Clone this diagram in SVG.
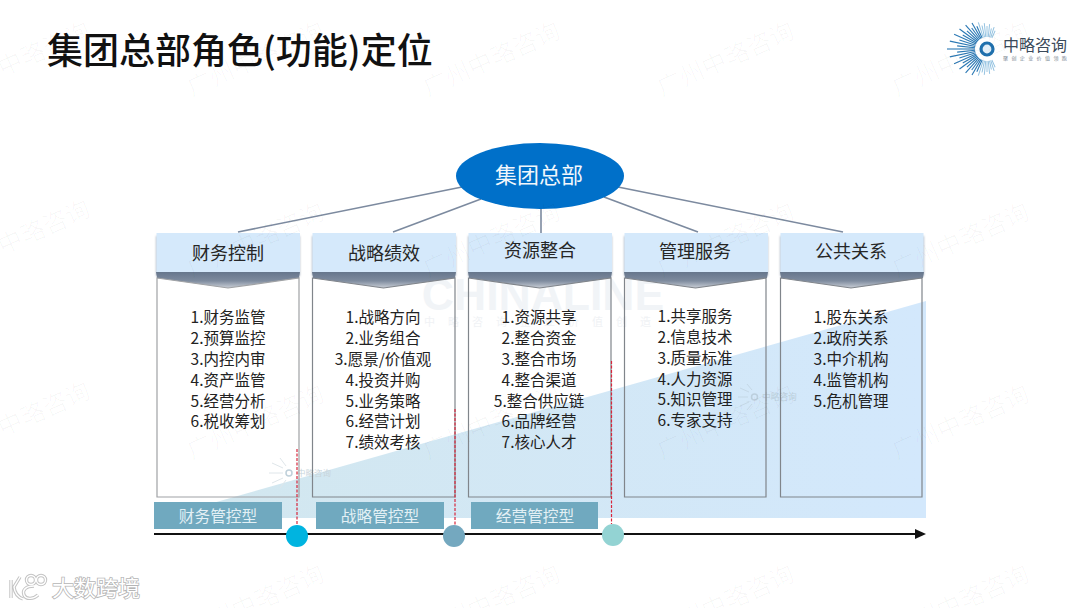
<svg xmlns="http://www.w3.org/2000/svg" width="1080" height="608" viewBox="0 0 1080 608">
<defs>
<linearGradient id="tri" x1="0" y1="0" x2="1" y2="0"><stop offset="0" stop-color="#d2e7ee"/><stop offset="1" stop-color="#d3e8fc"/></linearGradient>
<linearGradient id="chev" x1="0" y1="0" x2="0" y2="1"><stop offset="0" stop-color="#66768c"/><stop offset="0.55" stop-color="#7e8b9e"/><stop offset="1" stop-color="#c9ced6"/></linearGradient>
<filter id="hs" x="-5%" y="-10%" width="110%" height="125%"><feGaussianBlur stdDeviation="1"/></filter>
</defs>
<style>
text{font-family:"Noto Sans CJK SC","Noto Sans",sans-serif}
.wm{font-size:24.500px;fill:#000;fill-opacity:.026;text-anchor:middle}
.head{fill:#d5e9fb}
.chev{fill:url(#chev)}
.hsh{fill:#b4bdc8;filter:url(#hs)}
.box{fill:none;stroke:#80858b;stroke-width:1.2}
.ht{font-size:18px;fill:#262626;text-anchor:middle}
.it{font-size:15.500px;fill:#222;text-anchor:middle}
.lb{fill:#70a9bf}
.lt{font-size:15.700px;fill:#e3f0f5;text-anchor:middle}
.con{stroke:#7c8a9f;stroke-width:1.6;fill:none}
.red{stroke:#d8263c;stroke-width:1.200;stroke-dasharray:3 1.500;fill:none}
.ray{stroke:#2a78b4;stroke-width:1.100}
.ray2{stroke:#8fbfdf;stroke-width:.9}
.fray{stroke:#dfe6ea;stroke-width:1}
</style>
<rect width="1080" height="608" fill="#fff"/>
<g id="background">
<polygon points="160,518 926,301 926,518" fill="url(#tri)"/>
<text x="543" y="310" font-size="44.500" font-weight="700" fill="#f1f4f7" text-anchor="middle" style="font-family:'Liberation Sans',sans-serif">CHINALINE</text>
<text x="424" y="326" font-size="11" letter-spacing="13" fill="#f0f2f5">中略咨询企业价值创造</text>
<g id="small-logo-1">
<circle cx="289" cy="473" r="3" fill="none" stroke="#bfd0da" stroke-width="1.5"/>
<g class="fray"><line x1="283" y1="473" x2="269" y2="473"/><line x1="283" y1="468" x2="272" y2="463"/><line x1="283" y1="478" x2="272" y2="483"/><line x1="286" y1="466" x2="280" y2="458"/><line x1="286" y1="480" x2="280" y2="488"/></g>
<text x="297" y="476" font-size="8.500" fill="#c9d5db">中略咨询</text>
</g>
<g id="small-logo-2">
<circle cx="754.500" cy="397" r="3" fill="none" stroke="#bccfdd" stroke-width="1.5"/>
<g class="fray" style="stroke:#c5d8e6"><line x1="748" y1="397" x2="738" y2="397"/><line x1="749" y1="392" x2="740" y2="388"/><line x1="749" y1="402" x2="740" y2="406"/><line x1="752" y1="390" x2="747" y2="384"/><line x1="752" y1="404" x2="747" y2="410"/></g>
<text x="762" y="400" font-size="8.700" fill="#bccfdc">中略咨询</text>
</g>
</g>
<text x="47" y="64" font-size="36" font-weight="500" fill="#111">集团总部角色(功能)定位</text>
<g id="logo">
<g transform="translate(987 49)">
<line class="ray" x1="-12" x2="-40"/>
<line class="ray" x1="-12" x2="-30" transform="rotate(6)"/><line class="ray" x1="-12" x2="-38" transform="rotate(12)"/><line class="ray" x1="-12" x2="-29" transform="rotate(18)"/><line class="ray" x1="-12" x2="-36" transform="rotate(24)"/><line class="ray" x1="-12" x2="-28" transform="rotate(30)"/><line class="ray" x1="-12" x2="-34" transform="rotate(36)"/><line class="ray" x1="-12" x2="-27" transform="rotate(42)"/><line class="ray" x1="-12" x2="-32" transform="rotate(48)"/><line class="ray" x1="-12" x2="-26" transform="rotate(54)"/><line class="ray" x1="-12" x2="-30" transform="rotate(60)"/><line class="ray" x1="-12" x2="-25" transform="rotate(66)"/><line class="ray2" x1="-12" x2="-28" transform="rotate(72)"/><line class="ray2" x1="-12" x2="-24" transform="rotate(78)"/><line class="ray2" x1="-12" x2="-26" transform="rotate(84)"/><line class="ray2" x1="-12" x2="-23" transform="rotate(90)"/><line class="ray2" x1="-12" x2="-25" transform="rotate(96)"/><line class="ray2" x1="-12" x2="-21" transform="rotate(102)"/><line class="ray2" x1="-12" x2="-23" transform="rotate(108)"/><line class="ray2" x1="-12" x2="-20" transform="rotate(114)"/>
<line class="ray" x1="-12" x2="-30" transform="rotate(-6)"/><line class="ray" x1="-12" x2="-38" transform="rotate(-12)"/><line class="ray" x1="-12" x2="-29" transform="rotate(-18)"/><line class="ray" x1="-12" x2="-36" transform="rotate(-24)"/><line class="ray" x1="-12" x2="-28" transform="rotate(-30)"/><line class="ray" x1="-12" x2="-34" transform="rotate(-36)"/><line class="ray" x1="-12" x2="-27" transform="rotate(-42)"/><line class="ray" x1="-12" x2="-32" transform="rotate(-48)"/><line class="ray" x1="-12" x2="-26" transform="rotate(-54)"/><line class="ray" x1="-12" x2="-30" transform="rotate(-60)"/><line class="ray" x1="-12" x2="-25" transform="rotate(-66)"/><line class="ray2" x1="-12" x2="-28" transform="rotate(-72)"/><line class="ray2" x1="-12" x2="-24" transform="rotate(-78)"/><line class="ray2" x1="-12" x2="-26" transform="rotate(-84)"/><line class="ray2" x1="-12" x2="-23" transform="rotate(-90)"/><line class="ray2" x1="-12" x2="-25" transform="rotate(-96)"/><line class="ray2" x1="-12" x2="-21" transform="rotate(-102)"/><line class="ray2" x1="-12" x2="-23" transform="rotate(-108)"/><line class="ray2" x1="-12" x2="-20" transform="rotate(-114)"/>
<circle r="6" fill="#e3eff8" stroke="#1f70ad" stroke-width="3.2"/>
</g>
<text x="1003" y="51" font-size="16" fill="#3b4a5a">中略咨询</text>
<text x="1003" y="59.500" font-size="5" letter-spacing="3.400" fill="#7c8792">聚创企业价值领跑</text>
</g>
<g id="connectors">
<line class="con" x1="462" y1="187" x2="238" y2="232"/>
<line class="con" x1="481" y1="199" x2="393" y2="232"/>
<line class="con" x1="541" y1="208" x2="541" y2="233"/>
<line class="con" x1="604" y1="197" x2="698" y2="232"/>
<line class="con" x1="618" y1="187" x2="843" y2="232"/>
<line x1="154" y1="534" x2="916" y2="534" stroke="#111" stroke-width="2"/>
<polygon points="915,529 926,534 915,539" fill="#111"/>
</g>
<g id="root"><ellipse cx="540" cy="176" rx="84" ry="33" fill="#0070c9"/><text x="539" y="183" font-size="22" fill="#f2f7fc" text-anchor="middle">集团总部</text></g>
<g id="col1">
<rect class="hsh" x="156" y="236" width="144" height="40"/>
<rect class="head" x="156.500" y="233" width="143.500" height="39"/>
<polygon class="chev" points="156,272 300,272 299,278 228,288 157,278"/>
<polygon class="box" style="stroke:#a0a2a5" points="157,278 228,288 299,278 299,497 157,497"/>
<text class="ht" x="228" y="260">财务控制</text>
<text class="it" x="228" y="323">1.财务监管</text><text class="it" x="228" y="344">2.预算监控</text><text class="it" x="228" y="365">3.内控内审</text><text class="it" x="228" y="386">4.资产监管</text><text class="it" x="228" y="407">5.经营分析</text><text class="it" x="228" y="427">6.税收筹划</text>
</g>
<g id="col2">
<rect class="hsh" x="312" y="236" width="144" height="40"/>
<rect class="head" x="312.500" y="233" width="143.500" height="39"/>
<polygon class="chev" points="312,272 456,272 455,278 383.500,288 313,278"/>
<polygon class="box" points="312.500,278 383.500,288 455,278 455,497 312.500,497"/>
<text class="ht" x="384" y="260">战略绩效</text>
<text class="it" x="383" y="323">1.战略方向</text><text class="it" x="383" y="344">2.业务组合</text><text class="it" x="383" y="365">3.愿景/价值观</text><text class="it" x="383" y="386">4.投资并购</text><text class="it" x="383" y="407">5.业务策略</text><text class="it" x="383" y="427">6.经营计划</text><text class="it" x="383" y="448">7.绩效考核</text>
</g>
<g id="col3">
<rect class="hsh" x="468" y="236" width="144" height="40"/>
<rect class="head" x="468.500" y="233" width="143.500" height="39"/>
<polygon class="chev" points="468,272 612,272 611,278 539.500,288 469,278"/>
<polygon class="box" points="468.500,278 539.500,288 611,278 611,497 468.500,497"/>
<text class="ht" x="540" y="257">资源整合</text>
<text class="it" x="539" y="323">1.资源共享</text><text class="it" x="539" y="344">2.整合资金</text><text class="it" x="539" y="365">3.整合市场</text><text class="it" x="539" y="386">4.整合渠道</text><text class="it" x="539" y="407">5.整合供应链</text><text class="it" x="539" y="427">6.品牌经营</text><text class="it" x="539" y="448">7.核心人才</text>
</g>
<g id="col4">
<rect class="hsh" x="624" y="236" width="144" height="40"/>
<rect class="head" x="624.500" y="233" width="143.500" height="39"/>
<polygon class="chev" points="624,272 768,272 767,278 695.500,288 625,278"/>
<polygon class="box" points="624.500,278 695.500,288 766,278 766,497 624.500,497"/>
<text class="ht" x="695" y="258">管理服务</text>
<text class="it" x="695" y="322">1.共享服务</text><text class="it" x="695" y="343">2.信息技术</text><text class="it" x="695" y="364">3.质量标准</text><text class="it" x="695" y="385">4.人力资源</text><text class="it" x="695" y="405">5.知识管理</text><text class="it" x="695" y="426">6.专家支持</text>
</g>
<g id="col5">
<rect class="hsh" x="780" y="236" width="144" height="40"/>
<rect class="head" x="780.500" y="233" width="143" height="39"/>
<polygon class="chev" points="780,272 924,272 923,278 851,288 781,278"/>
<polygon class="box" points="780.500,278 851,288 922,278 922,497 780.500,497"/>
<text class="ht" x="851" y="258">公共关系</text>
<text class="it" x="851" y="323">1.股东关系</text><text class="it" x="851" y="344">2.政府关系</text><text class="it" x="851" y="365">3.中介机构</text><text class="it" x="851" y="386">4.监管机构</text><text class="it" x="851" y="407">5.危机管理</text>
</g>
<g id="markers">
<line class="red" x1="297" y1="449" x2="297" y2="527"/>
<line class="red" x1="455" y1="409" x2="455" y2="526"/>
<line class="red" x1="611.500" y1="361" x2="611.500" y2="524"/>
</g>
<g id="type1"><rect class="lb" x="154" y="502" width="128" height="27"/><text class="lt" x="218" y="522">财务管控型</text></g>
<g id="type2"><rect class="lb" x="316" y="502" width="128" height="27"/><text class="lt" x="380" y="522">战略管控型</text></g>
<g id="type3"><rect class="lb" x="471" y="502" width="127" height="27"/><text class="lt" x="535" y="522">经营管控型</text></g>
<g id="dot1"><circle cx="297" cy="536" r="11" fill="#00b4e0"/></g>
<g id="dot2"><circle cx="454" cy="536" r="11" fill="#74a8bf"/></g>
<g id="dot3"><circle cx="613" cy="535" r="11" fill="#93d3d3"/></g>
<g id="watermarks">
<text class="wm" transform="translate(25 67) rotate(-24)">广州中略咨询</text>
<text class="wm" transform="translate(259 67) rotate(-24)">广州中略咨询</text>
<text class="wm" transform="translate(495 67) rotate(-24)">广州中略咨询</text>
<text class="wm" transform="translate(729 67) rotate(-24)">广州中略咨询</text>
<text class="wm" transform="translate(964 67) rotate(-24)">广州中略咨询</text>
<text class="wm" transform="translate(25 245) rotate(-24)">广州中略咨询</text>
<text class="wm" transform="translate(259 248) rotate(-24)">广州中略咨询</text>
<text class="wm" transform="translate(495 248) rotate(-24)">广州中略咨询</text>
<text class="wm" transform="translate(729 248) rotate(-24)">广州中略咨询</text>
<text class="wm" transform="translate(964 248) rotate(-24)">广州中略咨询</text>
<text class="wm" transform="translate(25 427) rotate(-24)">广州中略咨询</text>
<text class="wm" transform="translate(259 430) rotate(-24)">广州中略咨询</text>
<text class="wm" transform="translate(495 430) rotate(-24)">广州中略咨询</text>
<text class="wm" transform="translate(729 430) rotate(-24)">广州中略咨询</text>
<text class="wm" transform="translate(964 430) rotate(-24)">广州中略咨询</text>
<text class="wm" transform="translate(259 610) rotate(-24)">广州中略咨询</text>
<text class="wm" transform="translate(495 610) rotate(-24)">广州中略咨询</text>
<text class="wm" transform="translate(729 610) rotate(-24)">广州中略咨询</text>
<text class="wm" transform="translate(964 610) rotate(-24)">广州中略咨询</text>
</g>
<g id="brand">
<g fill="none" stroke="#c4c4c4" stroke-width="3.400">
<path d="M11 580 V598 M20 577 L14 587 Q15 596 23 599"/>
<path d="M34 586 C26 586 22 590 24 595 C26 600 34 599 38 595"/>
<circle cx="31" cy="580" r="4.500"/><circle cx="41" cy="580" r="4.500"/>
</g>
<g fill="none" stroke="#fff" stroke-width="1.400">
<path d="M11 580 V598 M20 577 L14 587 Q15 596 23 599"/>
<path d="M34 586 C26 586 22 590 24 595 C26 600 34 599 38 595"/>
<circle cx="31" cy="580" r="4.500"/><circle cx="41" cy="580" r="4.500"/>
</g>
<text x="52" y="596" font-size="22" fill="#fff" stroke="#b5b5b5" stroke-width="1.6" paint-order="stroke">大数跨境</text>
</g>
</svg>
